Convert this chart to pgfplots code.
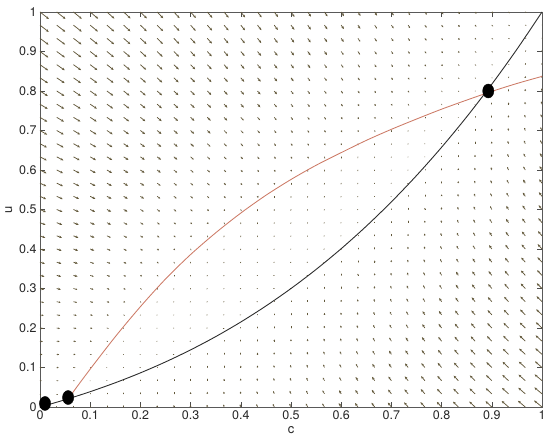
\documentclass[border=0pt]{standalone}
\usepackage{pgfplots}
\pgfplotsset{compat=1.18}
\usepackage{pgfplotstable}
\usetikzlibrary{arrows.meta}
\usepackage{fontspec}
\setmainfont{TeX Gyre Heros}

\definecolor{arrowcol}{RGB}{98,88,58}
\definecolor{redcurve}{RGB}{204,122,102}
\definecolor{blackcurve}{RGB}{45,45,45}

% vector field on a 31x31 grid: column i (c=i/30), row j (u=j/30),
% H and V = drawn arrow length in px (right / up)
\pgfplotstableread[row sep=\\]{
i j H V\\
0 0 -0.1 0\\ 0 1 0.7 0\\ 0 2 1.4 -0.1\\ 0 3 2.0 -0.2\\ 0 4 2.4 -0.3\\ 0 5 2.8 -0.5\\ 0 6 3.2 -0.6\\ 0 7 3.6 -0.8\\ 0 8 3.9 -1.0\\ 0 9 4.2 -1.1\\ 0 10 4.5 -1.3\\
0 11 4.8 -1.6\\ 0 12 5.0 -1.8\\ 0 13 5.3 -2.0\\ 0 14 5.6 -2.2\\ 0 15 5.8 -2.5\\ 0 16 6.0 -2.7\\ 0 17 6.3 -3.0\\ 0 18 6.5 -3.3\\ 0 19 6.7 -3.5\\ 0 20 6.9 -3.8\\
0 21 7.1 -4.1\\ 0 22 7.3 -4.4\\ 0 23 7.6 -4.7\\ 0 24 7.8 -5.0\\ 0 25 8.0 -5.3\\ 0 26 8.1 -5.7\\ 0 27 8.3 -6.0\\ 0 28 8.5 -6.3\\ 0 29 8.7 -6.7\\ 0 30 8.9 -7.0\\
1 0 0 0.5\\ 1 1 0.7 0\\ 1 2 1.4 -0.1\\ 1 3 1.9 -0.2\\ 1 4 2.4 -0.3\\ 1 5 2.8 -0.4\\ 1 6 3.1 -0.6\\ 1 7 3.5 -0.7\\ 1 8 3.8 -0.9\\ 1 9 4.1 -1.1\\ 1 10 4.4 -1.3\\
1 11 4.7 -1.5\\ 1 12 4.9 -1.7\\ 1 13 5.2 -1.9\\ 1 14 5.4 -2.2\\ 1 15 5.7 -2.4\\ 1 16 5.9 -2.7\\ 1 17 6.1 -2.9\\ 1 18 6.3 -3.2\\ 1 19 6.6 -3.5\\ 1 20 6.8 -3.7\\
1 21 7.0 -4.0\\ 1 22 7.2 -4.3\\ 1 23 7.4 -4.6\\ 1 24 7.6 -4.9\\ 1 25 7.8 -5.2\\ 1 26 8.0 -5.6\\ 1 27 8.1 -5.9\\ 1 28 8.3 -6.2\\ 1 29 8.5 -6.6\\ 1 30 8.7 -6.9\\
2 0 0 0.7\\ 2 1 0 0\\ 2 2 0.9 -0.1\\ 2 3 1.5 -0.2\\ 2 4 2.0 -0.3\\ 2 5 2.4 -0.4\\ 2 6 2.8 -0.5\\ 2 7 3.1 -0.7\\ 2 8 3.5 -0.9\\ 2 9 3.8 -1.1\\ 2 10 4.1 -1.2\\
2 11 4.3 -1.4\\ 2 12 4.6 -1.7\\ 2 13 4.9 -1.9\\ 2 14 5.1 -2.1\\ 2 15 5.3 -2.4\\ 2 16 5.6 -2.6\\ 2 17 5.8 -2.9\\ 2 18 6.0 -3.1\\ 2 19 6.2 -3.4\\ 2 20 6.5 -3.7\\
2 21 6.6 -4.0\\ 2 22 6.9 -4.2\\ 2 23 7.1 -4.5\\ 2 24 7.3 -4.9\\ 2 25 7.4 -5.2\\ 2 26 7.6 -5.5\\ 2 27 7.8 -5.8\\ 2 28 8.0 -6.1\\ 2 29 8.2 -6.5\\ 2 30 8.3 -6.8\\
3 0 0 0.9\\ 3 1 0 0.3\\ 3 2 -0.1 -0.1\\ 3 3 0 -0.1\\ 3 4 1.1 -0.2\\ 3 5 1.6 -0.4\\ 3 6 2.1 -0.5\\ 3 7 2.5 -0.7\\ 3 8 2.9 -0.8\\ 3 9 3.2 -1.0\\ 3 10 3.5 -1.2\\
3 11 3.8 -1.4\\ 3 12 4.1 -1.6\\ 3 13 4.3 -1.8\\ 3 14 4.6 -2.0\\ 3 15 4.8 -2.3\\ 3 16 5.1 -2.5\\ 3 17 5.3 -2.8\\ 3 18 5.5 -3.0\\ 3 19 5.7 -3.3\\ 3 20 6.0 -3.6\\
3 21 6.2 -3.9\\ 3 22 6.4 -4.2\\ 3 23 6.6 -4.5\\ 3 24 6.8 -4.8\\ 3 25 6.9 -5.1\\ 3 26 7.1 -5.4\\ 3 27 7.3 -5.7\\ 3 28 7.5 -6.0\\ 3 29 7.7 -6.4\\ 3 30 7.9 -6.7\\
4 0 0 1.1\\ 4 1 0 0.6\\ 4 2 -0.2 0\\ 4 3 -0.2 -0.1\\ 4 4 -0.1 -0.2\\ 4 5 0.7 -0.3\\ 4 6 1.4 -0.5\\ 4 7 1.8 -0.6\\ 4 8 2.3 -0.8\\ 4 9 2.6 -0.9\\ 4 10 3.0 -1.1\\
4 11 3.3 -1.3\\ 4 12 3.5 -1.5\\ 4 13 3.8 -1.7\\ 4 14 4.1 -2.0\\ 4 15 4.3 -2.2\\ 4 16 4.6 -2.4\\ 4 17 4.8 -2.7\\ 4 18 5.1 -3.0\\ 4 19 5.3 -3.2\\ 4 20 5.5 -3.5\\
4 21 5.7 -3.8\\ 4 22 5.9 -4.1\\ 4 23 6.1 -4.4\\ 4 24 6.3 -4.7\\ 4 25 6.5 -5.0\\ 4 26 6.7 -5.3\\ 4 27 6.9 -5.6\\ 4 28 7.1 -5.9\\ 4 29 7.2 -6.3\\ 4 30 7.4 -6.6\\
5 0 0 1.3\\ 5 1 0 0.9\\ 5 2 0 0.2\\ 5 3 -0.3 -0.1\\ 5 4 -0.2 -0.2\\ 5 5 -0.1 -0.3\\ 5 6 0 -0.4\\ 5 7 0.9 -0.6\\ 5 8 1.5 -0.7\\ 5 9 1.9 -0.9\\ 5 10 2.3 -1.1\\
5 11 2.7 -1.3\\ 5 12 3.0 -1.5\\ 5 13 3.3 -1.7\\ 5 14 3.6 -1.9\\ 5 15 3.8 -2.1\\ 5 16 4.1 -2.4\\ 5 17 4.3 -2.6\\ 5 18 4.6 -2.9\\ 5 19 4.8 -3.1\\ 5 20 5.0 -3.4\\
5 21 5.2 -3.7\\ 5 22 5.4 -4.0\\ 5 23 5.6 -4.3\\ 5 24 5.8 -4.6\\ 5 25 6.0 -4.9\\ 5 26 6.2 -5.2\\ 5 27 6.4 -5.5\\ 5 28 6.6 -5.8\\ 5 29 6.7 -6.2\\ 5 30 6.9 -6.5\\
6 0 0 1.5\\ 6 1 0 1.1\\ 6 2 0 0.6\\ 6 3 -0.5 0\\ 6 4 -0.4 -0.1\\ 6 5 -0.3 -0.2\\ 6 6 -0.2 -0.4\\ 6 7 -0.1 -0.5\\ 6 8 0.4 -0.7\\ 6 9 1.1 -0.8\\ 6 10 1.6 -1.0\\
6 11 2.0 -1.2\\ 6 12 2.4 -1.4\\ 6 13 2.7 -1.6\\ 6 14 3.0 -1.8\\ 6 15 3.3 -2.0\\ 6 16 3.6 -2.3\\ 6 17 3.8 -2.5\\ 6 18 4.1 -2.8\\ 6 19 4.3 -3.0\\ 6 20 4.5 -3.3\\
6 21 4.7 -3.6\\ 6 22 4.9 -3.9\\ 6 23 5.1 -4.2\\ 6 24 5.3 -4.5\\ 6 25 5.5 -4.8\\ 6 26 5.7 -5.1\\ 6 27 5.9 -5.4\\ 6 28 6.1 -5.7\\ 6 29 6.3 -6.1\\ 6 30 6.5 -6.4\\
7 0 0 1.7\\ 7 1 0 1.3\\ 7 2 0 0.9\\ 7 3 0 0.3\\ 7 4 -0.5 -0.1\\ 7 5 -0.4 -0.2\\ 7 6 -0.3 -0.3\\ 7 7 -0.2 -0.4\\ 7 8 -0.1 -0.6\\ 7 9 0 -0.7\\ 7 10 0.9 -0.9\\
7 11 1.4 -1.1\\ 7 12 1.8 -1.3\\ 7 13 2.2 -1.5\\ 7 14 2.5 -1.7\\ 7 15 2.8 -2.0\\ 7 16 3.1 -2.2\\ 7 17 3.4 -2.4\\ 7 18 3.6 -2.7\\ 7 19 3.9 -2.9\\ 7 20 4.1 -3.2\\
7 21 4.3 -3.5\\ 7 22 4.5 -3.8\\ 7 23 4.7 -4.1\\ 7 24 4.9 -4.4\\ 7 25 5.1 -4.7\\ 7 26 5.3 -5.0\\ 7 27 5.5 -5.3\\ 7 28 5.7 -5.6\\ 7 29 5.9 -5.9\\ 7 30 6.1 -6.3\\
8 0 0 1.9\\ 8 1 0 1.5\\ 8 2 0 1.2\\ 8 3 0 0.7\\ 8 4 -0.6 0\\ 8 5 -0.5 -0.1\\ 8 6 -0.4 -0.2\\ 8 7 -0.3 -0.4\\ 8 8 -0.2 -0.5\\ 8 9 -0.1 -0.7\\ 8 10 0 -0.8\\
8 11 0.7 -1.0\\ 8 12 1.2 -1.2\\ 8 13 1.7 -1.4\\ 8 14 2.0 -1.6\\ 8 15 2.4 -1.9\\ 8 16 2.7 -2.1\\ 8 17 2.9 -2.3\\ 8 18 3.2 -2.6\\ 8 19 3.4 -2.8\\ 8 20 3.7 -3.1\\
8 21 3.9 -3.4\\ 8 22 4.1 -3.6\\ 8 23 4.3 -3.9\\ 8 24 4.5 -4.2\\ 8 25 4.7 -4.5\\ 8 26 4.9 -4.8\\ 8 27 5.1 -5.2\\ 8 28 5.3 -5.5\\ 8 29 5.5 -5.8\\ 8 30 5.7 -6.1\\
9 0 -0.2 2.0\\ 9 1 0 1.7\\ 9 2 0 1.4\\ 9 3 0 1.0\\ 9 4 0 0.4\\ 9 5 -0.7 -0.1\\ 9 6 -0.6 -0.2\\ 9 7 -0.5 -0.3\\ 9 8 -0.4 -0.4\\ 9 9 -0.3 -0.6\\ 9 10 -0.2 -0.8\\
9 11 -0.1 -0.9\\ 9 12 0.4 -1.1\\ 9 13 1.1 -1.3\\ 9 14 1.5 -1.5\\ 9 15 1.9 -1.8\\ 9 16 2.2 -2.0\\ 9 17 2.5 -2.2\\ 9 18 2.8 -2.5\\ 9 19 3.0 -2.7\\ 9 20 3.3 -3.0\\
9 21 3.5 -3.3\\ 9 22 3.7 -3.5\\ 9 23 4.0 -3.8\\ 9 24 4.2 -4.1\\ 9 25 4.4 -4.4\\ 9 26 4.6 -4.7\\ 9 27 4.7 -5.0\\ 9 28 4.9 -5.3\\ 9 29 5.1 -5.7\\ 9 30 5.3 -6.0\\
10 0 -0.4 2.2\\ 10 1 -0.1 1.9\\ 10 2 0 1.6\\ 10 3 0 1.3\\ 10 4 0 0.9\\ 10 5 -0.8 0\\ 10 6 -0.7 -0.1\\ 10 7 -0.6 -0.2\\ 10 8 -0.5 -0.4\\ 10 9 -0.4 -0.5\\ 10 10 -0.3 -0.7\\
10 11 -0.2 -0.8\\ 10 12 -0.1 -1.0\\ 10 13 0.5 -1.2\\ 10 14 1.1 -1.4\\ 10 15 1.5 -1.6\\ 10 16 1.9 -1.9\\ 10 17 2.2 -2.1\\ 10 18 2.5 -2.3\\ 10 19 2.7 -2.6\\ 10 20 3.0 -2.9\\
10 21 3.2 -3.1\\ 10 22 3.4 -3.4\\ 10 23 3.7 -3.7\\ 10 24 3.9 -4.0\\ 10 25 4.1 -4.3\\ 10 26 4.3 -4.6\\ 10 27 4.4 -4.9\\ 10 28 4.6 -5.2\\ 10 29 4.8 -5.5\\ 10 30 5.0 -5.8\\
11 0 -0.6 2.4\\ 11 1 -0.3 2.1\\ 11 2 0 1.8\\ 11 3 0 1.5\\ 11 4 0 1.2\\ 11 5 0 0.7\\ 11 6 -0.8 0\\ 11 7 -0.7 -0.1\\ 11 8 -0.6 -0.3\\ 11 9 -0.5 -0.4\\ 11 10 -0.4 -0.6\\
11 11 -0.3 -0.7\\ 11 12 -0.2 -0.9\\ 11 13 -0.1 -1.1\\ 11 14 0.5 -1.3\\ 11 15 1.0 -1.5\\ 11 16 1.5 -1.8\\ 11 17 1.8 -2.0\\ 11 18 2.1 -2.2\\ 11 19 2.4 -2.5\\ 11 20 2.6 -2.7\\
11 21 2.9 -3.0\\ 11 22 3.1 -3.3\\ 11 23 3.3 -3.5\\ 11 24 3.5 -3.8\\ 11 25 3.7 -4.1\\ 11 26 3.9 -4.4\\ 11 27 4.1 -4.7\\ 11 28 4.3 -5.0\\ 11 29 4.5 -5.3\\ 11 30 4.6 -5.7\\
12 0 -0.9 2.6\\ 12 1 -0.6 2.3\\ 12 2 -0.3 2.1\\ 12 3 0 1.8\\ 12 4 0 1.4\\ 12 5 0 1.1\\ 12 6 0 0.5\\ 12 7 -0.8 -0.1\\ 12 8 -0.7 -0.2\\ 12 9 -0.6 -0.3\\ 12 10 -0.5 -0.5\\
12 11 -0.4 -0.6\\ 12 12 -0.3 -0.8\\ 12 13 -0.2 -1.0\\ 12 14 -0.1 -1.2\\ 12 15 0.5 -1.4\\ 12 16 1.0 -1.6\\ 12 17 1.4 -1.9\\ 12 18 1.8 -2.1\\ 12 19 2.1 -2.3\\ 12 20 2.3 -2.6\\
12 21 2.6 -2.8\\ 12 22 2.8 -3.1\\ 12 23 3.0 -3.4\\ 12 24 3.2 -3.7\\ 12 25 3.4 -4.0\\ 12 26 3.6 -4.2\\ 12 27 3.8 -4.5\\ 12 28 4.0 -4.9\\ 12 29 4.2 -5.2\\ 12 30 4.4 -5.5\\
13 0 -1.1 2.8\\ 13 1 -0.8 2.5\\ 13 2 -0.5 2.3\\ 13 3 -0.2 2.0\\ 13 4 0 1.7\\ 13 5 0 1.4\\ 13 6 0 1.0\\ 13 7 0 0.4\\ 13 8 -0.7 -0.1\\ 13 9 -0.6 -0.2\\ 13 10 -0.5 -0.4\\
13 11 -0.4 -0.5\\ 13 12 -0.3 -0.7\\ 13 13 -0.2 -0.9\\ 13 14 -0.1 -1.1\\ 13 15 0 -1.3\\ 13 16 0.7 -1.5\\ 13 17 1.1 -1.7\\ 13 18 1.5 -1.9\\ 13 19 1.8 -2.2\\ 13 20 2.1 -2.4\\
13 21 2.3 -2.7\\ 13 22 2.6 -2.9\\ 13 23 2.8 -3.2\\ 13 24 3.0 -3.5\\ 13 25 3.2 -3.8\\ 13 26 3.4 -4.1\\ 13 27 3.6 -4.4\\ 13 28 3.7 -4.7\\ 13 29 3.9 -5.0\\ 13 30 4.1 -5.3\\
14 0 -1.4 3.0\\ 14 1 -1.1 2.7\\ 14 2 -0.7 2.5\\ 14 3 -0.5 2.2\\ 14 4 -0.2 2.0\\ 14 5 0 1.7\\ 14 6 0 1.3\\ 14 7 0 0.9\\ 14 8 0 0.2\\ 14 9 -0.7 -0.1\\ 14 10 -0.6 -0.3\\
14 11 -0.5 -0.4\\ 14 12 -0.4 -0.6\\ 14 13 -0.3 -0.8\\ 14 14 -0.2 -0.9\\ 14 15 -0.1 -1.1\\ 14 16 0 -1.3\\ 14 17 0.6 -1.6\\ 14 18 1.1 -1.8\\ 14 19 1.4 -2.0\\ 14 20 1.7 -2.3\\
14 21 2.0 -2.5\\ 14 22 2.2 -2.8\\ 14 23 2.5 -3.0\\ 14 24 2.7 -3.3\\ 14 25 2.9 -3.6\\ 14 26 3.1 -3.9\\ 14 27 3.3 -4.2\\ 14 28 3.4 -4.5\\ 14 29 3.6 -4.8\\ 14 30 3.8 -5.1\\
15 0 -1.6 3.2\\ 15 1 -1.3 2.9\\ 15 2 -1.0 2.7\\ 15 3 -0.7 2.5\\ 15 4 -0.4 2.2\\ 15 5 -0.1 1.9\\ 15 6 0 1.6\\ 15 7 0 1.3\\ 15 8 0 0.8\\ 15 9 -0.8 0\\ 15 10 -0.7 -0.1\\
15 11 -0.6 -0.3\\ 15 12 -0.5 -0.4\\ 15 13 -0.4 -0.6\\ 15 14 -0.3 -0.8\\ 15 15 -0.2 -1.0\\ 15 16 -0.1 -1.2\\ 15 17 0 -1.4\\ 15 18 0.7 -1.6\\ 15 19 1.1 -1.9\\ 15 20 1.4 -2.1\\
15 21 1.7 -2.3\\ 15 22 2.0 -2.6\\ 15 23 2.2 -2.9\\ 15 24 2.4 -3.1\\ 15 25 2.6 -3.4\\ 15 26 2.8 -3.7\\ 15 27 3.0 -4.0\\ 15 28 3.2 -4.3\\ 15 29 3.4 -4.6\\ 15 30 3.5 -4.9\\
16 0 -1.9 3.4\\ 16 1 -1.6 3.1\\ 16 2 -1.3 2.9\\ 16 3 -1.0 2.7\\ 16 4 -0.7 2.5\\ 16 5 -0.4 2.2\\ 16 6 -0.1 1.9\\ 16 7 0 1.6\\ 16 8 0 1.3\\ 16 9 0 0.8\\ 16 10 -0.8 0\\
16 11 -0.7 -0.1\\ 16 12 -0.6 -0.3\\ 16 13 -0.5 -0.5\\ 16 14 -0.4 -0.6\\ 16 15 -0.3 -0.8\\ 16 16 -0.2 -1.0\\ 16 17 -0.1 -1.2\\ 16 18 0.1 -1.5\\ 16 19 0.8 -1.7\\ 16 20 1.1 -1.9\\
16 21 1.4 -2.2\\ 16 22 1.7 -2.4\\ 16 23 1.9 -2.7\\ 16 24 2.2 -2.9\\ 16 25 2.4 -3.2\\ 16 26 2.6 -3.5\\ 16 27 2.8 -3.8\\ 16 28 2.9 -4.1\\ 16 29 3.1 -4.4\\ 16 30 3.3 -4.7\\
17 0 -2.2 3.5\\ 17 1 -1.9 3.4\\ 17 2 -1.6 3.1\\ 17 3 -1.3 2.9\\ 17 4 -1.0 2.7\\ 17 5 -0.7 2.5\\ 17 6 -0.4 2.2\\ 17 7 -0.1 1.9\\ 17 8 0 1.6\\ 17 9 0 1.3\\ 17 10 0 0.8\\
17 11 -0.8 0\\ 17 12 -0.7 -0.2\\ 17 13 -0.6 -0.3\\ 17 14 -0.5 -0.5\\ 17 15 -0.4 -0.7\\ 17 16 -0.3 -0.9\\ 17 17 -0.2 -1.1\\ 17 18 -0.1 -1.3\\ 17 19 0.4 -1.5\\ 17 20 0.9 -1.7\\
17 21 1.2 -2.0\\ 17 22 1.5 -2.2\\ 17 23 1.7 -2.5\\ 17 24 1.9 -2.7\\ 17 25 2.2 -3.0\\ 17 26 2.3 -3.3\\ 17 27 2.5 -3.6\\ 17 28 2.7 -3.8\\ 17 29 2.9 -4.1\\ 17 30 3.0 -4.4\\
18 0 -2.5 3.8\\ 18 1 -2.2 3.6\\ 18 2 -1.9 3.4\\ 18 3 -1.6 3.2\\ 18 4 -1.3 2.9\\ 18 5 -1.0 2.7\\ 18 6 -0.7 2.5\\ 18 7 -0.4 2.2\\ 18 8 -0.1 1.9\\ 18 9 0 1.6\\ 18 10 0 1.3\\
18 11 0 0.9\\ 18 12 -0.7 0\\ 18 13 -0.6 -0.1\\ 18 14 -0.5 -0.3\\ 18 15 -0.4 -0.5\\ 18 16 -0.3 -0.7\\ 18 17 -0.2 -0.9\\ 18 18 -0.1 -1.1\\ 18 19 0 -1.3\\ 18 20 0.6 -1.5\\
18 21 0.9 -1.8\\ 18 22 1.2 -2.0\\ 18 23 1.5 -2.2\\ 18 24 1.7 -2.5\\ 18 25 1.9 -2.8\\ 18 26 2.1 -3.0\\ 18 27 2.3 -3.3\\ 18 28 2.5 -3.6\\ 18 29 2.7 -3.9\\ 18 30 2.8 -4.2\\
19 0 -2.9 4.0\\ 19 1 -2.6 3.8\\ 19 2 -2.3 3.6\\ 19 3 -2.0 3.4\\ 19 4 -1.7 3.2\\ 19 5 -1.4 3.0\\ 19 6 -1.1 2.7\\ 19 7 -0.8 2.5\\ 19 8 -0.5 2.3\\ 19 9 -0.2 2.0\\ 19 10 0 1.7\\
19 11 0 1.3\\ 19 12 0 0.9\\ 19 13 0 0.3\\ 19 14 -0.6 -0.1\\ 19 15 -0.5 -0.3\\ 19 16 -0.4 -0.5\\ 19 17 -0.3 -0.7\\ 19 18 -0.2 -0.9\\ 19 19 -0.1 -1.1\\ 19 20 0.2 -1.3\\
19 21 0.7 -1.5\\ 19 22 1.0 -1.8\\ 19 23 1.3 -2.0\\ 19 24 1.5 -2.3\\ 19 25 1.7 -2.5\\ 19 26 1.9 -2.8\\ 19 27 2.1 -3.1\\ 19 28 2.3 -3.3\\ 19 29 2.4 -3.6\\ 19 30 2.6 -3.9\\
20 0 -3.2 4.2\\ 20 1 -2.9 4.0\\ 20 2 -2.6 3.8\\ 20 3 -2.3 3.6\\ 20 4 -2.0 3.4\\ 20 5 -1.7 3.2\\ 20 6 -1.4 3.0\\ 20 7 -1.1 2.8\\ 20 8 -0.8 2.6\\ 20 9 -0.5 2.3\\ 20 10 -0.2 2.0\\
20 11 0 1.7\\ 20 12 0 1.4\\ 20 13 0 1.0\\ 20 14 0 0.4\\ 20 15 -0.5 -0.1\\ 20 16 -0.4 -0.3\\ 20 17 -0.3 -0.5\\ 20 18 -0.2 -0.7\\ 20 19 -0.1 -0.9\\ 20 20 0 -1.1\\
20 21 0.4 -1.3\\ 20 22 0.8 -1.5\\ 20 23 1.1 -1.8\\ 20 24 1.3 -2.0\\ 20 25 1.5 -2.3\\ 20 26 1.7 -2.5\\ 20 27 1.9 -2.8\\ 20 28 2.1 -3.1\\ 20 29 2.3 -3.4\\ 20 30 2.4 -3.7\\
21 0 -3.6 4.4\\ 21 1 -3.3 4.2\\ 21 2 -3.0 4.0\\ 21 3 -2.7 3.9\\ 21 4 -2.4 3.7\\ 21 5 -2.1 3.5\\ 21 6 -1.8 3.3\\ 21 7 -1.5 3.1\\ 21 8 -1.2 2.8\\ 21 9 -0.9 2.6\\ 21 10 -0.6 2.4\\
21 11 -0.3 2.1\\ 21 12 0 1.8\\ 21 13 0 1.5\\ 21 14 0 1.1\\ 21 15 0 0.6\\ 21 16 -0.5 -0.1\\ 21 17 -0.4 -0.3\\ 21 18 -0.3 -0.4\\ 21 19 -0.2 -0.6\\ 21 20 -0.1 -0.8\\
21 21 0 -1.1\\ 21 22 0.6 -1.3\\ 21 23 0.9 -1.5\\ 21 24 1.2 -1.8\\ 21 25 1.4 -2.0\\ 21 26 1.6 -2.3\\ 21 27 1.7 -2.5\\ 21 28 1.9 -2.8\\ 21 29 2.1 -3.1\\ 21 30 2.2 -3.4\\
22 0 -4.0 4.6\\ 22 1 -3.7 4.4\\ 22 2 -3.4 4.3\\ 22 3 -3.1 4.1\\ 22 4 -2.8 3.9\\ 22 5 -2.5 3.7\\ 22 6 -2.2 3.5\\ 22 7 -1.9 3.3\\ 22 8 -1.6 3.1\\ 22 9 -1.3 2.9\\ 22 10 -1.0 2.7\\
22 11 -0.7 2.4\\ 22 12 -0.4 2.2\\ 22 13 -0.1 1.9\\ 22 14 0 1.6\\ 22 15 0 1.2\\ 22 16 0 0.8\\ 22 17 -0.5 0\\ 22 18 -0.4 -0.2\\ 22 19 -0.3 -0.4\\ 22 20 -0.2 -0.6\\
22 21 -0.1 -0.8\\ 22 22 0.4 -1.0\\ 22 23 0.7 -1.2\\ 22 24 1.0 -1.5\\ 22 25 1.2 -1.7\\ 22 26 1.4 -2.0\\ 22 27 1.6 -2.2\\ 22 28 1.7 -2.5\\ 22 29 1.9 -2.8\\ 22 30 2.0 -3.1\\
23 0 -4.4 4.8\\ 23 1 -4.1 4.7\\ 23 2 -3.8 4.5\\ 23 3 -3.5 4.3\\ 23 4 -3.2 4.2\\ 23 5 -2.9 4.0\\ 23 6 -2.6 3.8\\ 23 7 -2.3 3.6\\ 23 8 -2.0 3.4\\ 23 9 -1.7 3.2\\ 23 10 -1.4 3.0\\
23 11 -1.1 2.8\\ 23 12 -0.8 2.5\\ 23 13 -0.5 2.3\\ 23 14 -0.2 2.0\\ 23 15 0 1.7\\ 23 16 0 1.4\\ 23 17 0 1.0\\ 23 18 0 0.4\\ 23 19 -0.3 -0.1\\ 23 20 -0.2 -0.3\\
23 21 -0.1 -0.5\\ 23 22 0 -0.7\\ 23 23 0.5 -1.0\\ 23 24 0.8 -1.2\\ 23 25 1.0 -1.4\\ 23 26 1.2 -1.7\\ 23 27 1.4 -1.9\\ 23 28 1.6 -2.2\\ 23 29 1.7 -2.5\\ 23 30 1.9 -2.7\\
24 0 -4.8 5.1\\ 24 1 -4.5 4.9\\ 24 2 -4.2 4.7\\ 24 3 -3.9 4.6\\ 24 4 -3.6 4.4\\ 24 5 -3.3 4.2\\ 24 6 -3.0 4.1\\ 24 7 -2.7 3.9\\ 24 8 -2.4 3.7\\ 24 9 -2.1 3.5\\ 24 10 -1.8 3.3\\
24 11 -1.5 3.1\\ 24 12 -1.2 2.9\\ 24 13 -0.9 2.7\\ 24 14 -0.6 2.4\\ 24 15 -0.3 2.2\\ 24 16 0 1.9\\ 24 17 0 1.5\\ 24 18 0 1.2\\ 24 19 0 0.7\\ 24 20 -0.3 0\\
24 21 -0.2 -0.2\\ 24 22 -0.1 -0.5\\ 24 23 0.3 -0.7\\ 24 24 0.6 -0.9\\ 24 25 0.9 -1.1\\ 24 26 1.1 -1.4\\ 24 27 1.3 -1.6\\ 24 28 1.4 -1.9\\ 24 29 1.6 -2.1\\ 24 30 1.7 -2.4\\
25 0 -5.3 5.3\\ 25 1 -5.0 5.1\\ 25 2 -4.7 5.0\\ 25 3 -4.4 4.8\\ 25 4 -4.1 4.7\\ 25 5 -3.8 4.5\\ 25 6 -3.5 4.3\\ 25 7 -3.2 4.2\\ 25 8 -2.9 4.0\\ 25 9 -2.6 3.8\\ 25 10 -2.3 3.6\\
25 11 -2.0 3.4\\ 25 12 -1.7 3.2\\ 25 13 -1.4 3.0\\ 25 14 -1.1 2.8\\ 25 15 -0.8 2.5\\ 25 16 -0.5 2.3\\ 25 17 -0.2 2.0\\ 25 18 0 1.7\\ 25 19 0 1.4\\ 25 20 0 1.0\\
25 21 0 0.4\\ 25 22 -0.1 -0.2\\ 25 23 0 -0.4\\ 25 24 0.5 -0.6\\ 25 25 0.7 -0.8\\ 25 26 0.9 -1.0\\ 25 27 1.1 -1.3\\ 25 28 1.3 -1.5\\ 25 29 1.4 -1.8\\ 25 30 1.6 -2.0\\
26 0 -5.8 5.5\\ 26 1 -5.5 5.4\\ 26 2 -5.2 5.2\\ 26 3 -4.9 5.1\\ 26 4 -4.6 4.9\\ 26 5 -4.3 4.8\\ 26 6 -4.0 4.6\\ 26 7 -3.7 4.4\\ 26 8 -3.4 4.3\\ 26 9 -3.1 4.1\\ 26 10 -2.8 3.9\\
26 11 -2.5 3.7\\ 26 12 -2.2 3.5\\ 26 13 -1.9 3.3\\ 26 14 -1.6 3.1\\ 26 15 -1.3 2.9\\ 26 16 -1.0 2.7\\ 26 17 -0.7 2.4\\ 26 18 -0.4 2.2\\ 26 19 -0.1 1.9\\ 26 20 0 1.6\\
26 21 0 1.2\\ 26 22 0 0.8\\ 26 23 -0.1 0\\ 26 24 0.3 -0.2\\ 26 25 0.6 -0.5\\ 26 26 0.8 -0.7\\ 26 27 1.0 -0.9\\ 26 28 1.1 -1.2\\ 26 29 1.3 -1.4\\ 26 30 1.4 -1.7\\
27 0 -6.3 5.8\\ 27 1 -6.0 5.6\\ 27 2 -5.7 5.5\\ 27 3 -5.4 5.3\\ 27 4 -5.1 5.2\\ 27 5 -4.8 5.0\\ 27 6 -4.5 4.9\\ 27 7 -4.2 4.7\\ 27 8 -3.9 4.5\\ 27 9 -3.6 4.4\\ 27 10 -3.3 4.2\\
27 11 -3.0 4.0\\ 27 12 -2.7 3.8\\ 27 13 -2.4 3.7\\ 27 14 -2.1 3.5\\ 27 15 -1.8 3.3\\ 27 16 -1.5 3.0\\ 27 17 -1.2 2.8\\ 27 18 -0.9 2.6\\ 27 19 -0.6 2.4\\ 27 20 -0.3 2.1\\
27 21 0 1.8\\ 27 22 0 1.5\\ 27 23 0 1.1\\ 27 24 0 0.6\\ 27 25 0.4 -0.1\\ 27 26 0.7 -0.3\\ 27 27 0.8 -0.6\\ 27 28 1.0 -0.8\\ 27 29 1.1 -1.0\\ 27 30 1.3 -1.3\\
28 0 -6.8 6.0\\ 28 1 -6.5 5.9\\ 28 2 -6.2 5.7\\ 28 3 -5.9 5.6\\ 28 4 -5.6 5.4\\ 28 5 -5.3 5.3\\ 28 6 -5.0 5.1\\ 28 7 -4.7 5.0\\ 28 8 -4.4 4.8\\ 28 9 -4.1 4.7\\ 28 10 -3.8 4.5\\
28 11 -3.5 4.3\\ 28 12 -3.2 4.2\\ 28 13 -2.9 4.0\\ 28 14 -2.6 3.8\\ 28 15 -2.3 3.6\\ 28 16 -2.0 3.4\\ 28 17 -1.7 3.2\\ 28 18 -1.4 3.0\\ 28 19 -1.1 2.8\\ 28 20 -0.8 2.5\\
28 21 -0.5 2.3\\ 28 22 -0.2 2.0\\ 28 23 0 1.7\\ 28 24 0 1.4\\ 28 25 0.3 1.0\\ 28 26 0.5 0.4\\ 28 27 0.7 -0.2\\ 28 28 0.9 -0.4\\ 28 29 1.0 -0.6\\ 28 30 1.1 -0.9\\
29 0 -7.3 6.2\\ 29 1 -7.0 6.1\\ 29 2 -6.7 6.0\\ 29 3 -6.4 5.8\\ 29 4 -6.1 5.7\\ 29 5 -5.8 5.6\\ 29 6 -5.5 5.4\\ 29 7 -5.2 5.3\\ 29 8 -4.9 5.1\\ 29 9 -4.6 5.0\\ 29 10 -4.3 4.8\\
29 11 -4.0 4.6\\ 29 12 -3.7 4.5\\ 29 13 -3.4 4.3\\ 29 14 -3.1 4.1\\ 29 15 -2.8 4.0\\ 29 16 -2.5 3.8\\ 29 17 -2.2 3.6\\ 29 18 -1.9 3.4\\ 29 19 -1.6 3.2\\ 29 20 -1.3 3.0\\
29 21 -1.0 2.7\\ 29 22 -0.7 2.5\\ 29 23 -0.4 2.2\\ 29 24 -0.1 2.0\\ 29 25 0.1 1.7\\ 29 26 0.4 1.3\\ 29 27 0.6 0.9\\ 29 28 0.8 0.2\\ 29 29 0.9 -0.2\\ 29 30 1.0 -0.4\\
30 0 -7.9 6.5\\ 30 1 -7.6 6.4\\ 30 2 -7.3 6.2\\ 30 3 -7.0 6.1\\ 30 4 -6.7 6.0\\ 30 5 -6.4 5.8\\ 30 6 -6.1 5.7\\ 30 7 -5.8 5.5\\ 30 8 -5.5 5.4\\ 30 9 -5.2 5.2\\ 30 10 -4.9 5.1\\
30 11 -4.6 4.9\\ 30 12 -4.3 4.8\\ 30 13 -4.0 4.6\\ 30 14 -3.7 4.5\\ 30 15 -3.4 4.3\\ 30 16 -3.1 4.1\\ 30 17 -2.8 3.9\\ 30 18 -2.5 3.8\\ 30 19 -2.2 3.6\\ 30 20 -1.9 3.4\\
30 21 -1.6 3.2\\ 30 22 -1.3 2.9\\ 30 23 -1.0 2.7\\ 30 24 -0.7 2.5\\ 30 25 -0.4 2.2\\ 30 26 0.3 1.9\\ 30 27 0.5 1.6\\ 30 28 0.7 1.3\\ 30 29 0.8 0.8\\ 30 30 0.9 0\\
}\field

\begin{document}
\begin{tikzpicture}
\begin{axis}[
    scale only axis,
    width=502pt, height=395pt,
    xmin=0, xmax=1, ymin=0, ymax=1,
    xtick={0,0.1,0.2,0.3,0.4,0.5,0.6,0.7,0.8,0.9,1},
    ytick={0,0.1,0.2,0.3,0.4,0.5,0.6,0.7,0.8,0.9,1},
    tick align=inside,
    major tick length=5pt,
    tick style={black!70, line width=0.5pt},
    axis line style={black!65, line width=0.6pt},
    /pgf/number format/assume math mode=true,
    tick label style={font=\fontsize{12.5}{14}\selectfont, text=black!85},
    label style={font=\fontsize{13}{15}\selectfont, text=black!85},
    xlabel={c}, ylabel={u},
]
\coordinate (SW) at (rel axis cs:0,0);
\coordinate (NE) at (rel axis cs:1,1);

% vector field, three length classes so that heads scale roughly with length
\addplot[arrowcol, line width=0.65pt, line cap=round,
    quiver={u=\thisrow{H}/502, v=\thisrow{V}/395},
    restrict expr to domain={sqrt((\thisrow{H})*(\thisrow{H})+(\thisrow{V})*(\thisrow{V}))}{0:1.6}]
    table[x expr=\thisrow{i}/30, y expr=\thisrow{j}/30] {\field};
\addplot[arrowcol, line width=0.65pt, -{Stealth[length=1.7pt,width=1.7pt]},
    quiver={u=\thisrow{H}/502, v=\thisrow{V}/395},
    restrict expr to domain={sqrt((\thisrow{H})*(\thisrow{H})+(\thisrow{V})*(\thisrow{V}))}{1.6001:4.2}]
    table[x expr=\thisrow{i}/30, y expr=\thisrow{j}/30] {\field};
\addplot[arrowcol, line width=0.75pt, -{Stealth[length=2.8pt,width=2.4pt]},
    quiver={u=\thisrow{H}/502, v=\thisrow{V}/395},
    restrict expr to domain={sqrt((\thisrow{H})*(\thisrow{H})+(\thisrow{V})*(\thisrow{V}))}{4.2001:100}]
    table[x expr=\thisrow{i}/30, y expr=\thisrow{j}/30] {\field};

% nullclines
\addplot[blackcurve, line width=0.9pt, smooth] coordinates {
(0,0) (0.05,0.0184) (0.1,0.0388) (0.15,0.0614) (0.2,0.0864) (0.25,0.1141)
(0.3,0.1446) (0.35,0.1782) (0.4,0.2152) (0.45,0.2557) (0.5,0.3) (0.55,0.3483)
(0.6,0.4008) (0.65,0.4578) (0.7,0.5194) (0.75,0.5859) (0.8,0.6576) (0.85,0.7346)
(0.9,0.8172) (0.95,0.9056) (1,1)};
\addplot[redcurve, line width=0.85pt, smooth] coordinates {
(0.057,0.022) (0.075,0.0535) (0.1,0.096) (0.15,0.178) (0.2,0.254) (0.25,0.324)
(0.3,0.386) (0.35,0.441) (0.4,0.491) (0.45,0.536) (0.5,0.576) (0.55,0.612)
(0.6,0.644) (0.65,0.675) (0.7,0.703) (0.75,0.729) (0.8,0.754) (0.85,0.777)
(0.9,0.799) (0.95,0.819) (1,0.837)};

% equilibria
\addplot[only marks, mark=*, mark size=7pt,
    mark options={xscale=0.8, fill=black, draw=black}]
    coordinates {(0.01,0.009) (0.056,0.024) (0.893,0.80)};
\end{axis}
\pgfresetboundingbox
\path[use as bounding box] ([shift={(-40pt,-38pt)}]SW) rectangle ([shift={(8pt,12pt)}]NE);
\end{tikzpicture}
\end{document}
